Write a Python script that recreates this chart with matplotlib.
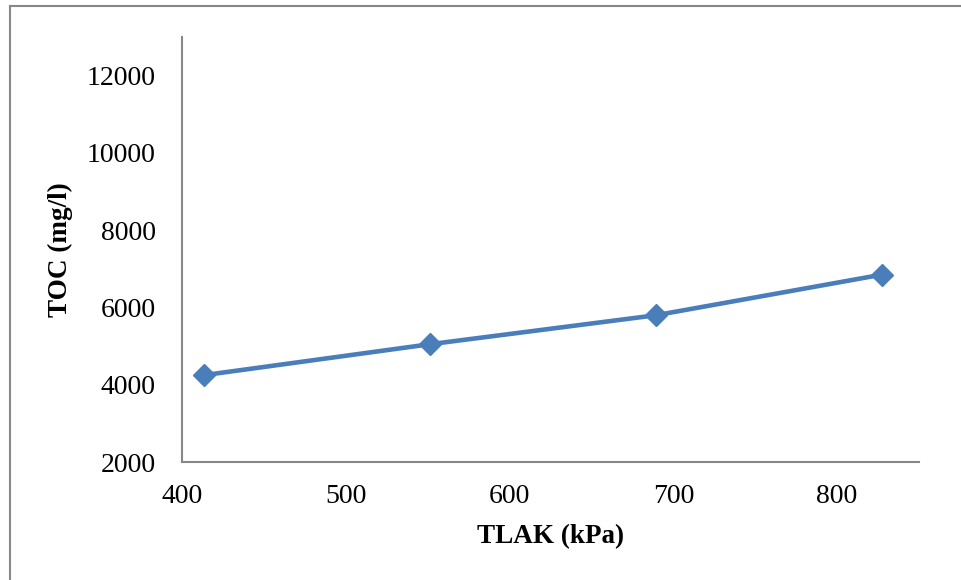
import matplotlib.pyplot as plt
from matplotlib.lines import Line2D

# TLAK pressure (kPa) vs TOC (mg/l)
tlak = [413.7, 551.6, 689.5, 827.4]
toc = [4250, 5050, 5800, 6850]
xticks = [400, 500, 600, 700, 800]
yticks = [2000, 4000, 6000, 8000, 10000, 12000]

plt.rcParams['font.family'] = 'Liberation Serif'

fig = plt.figure(figsize=(9.61, 5.8), dpi=100)
ax = fig.add_axes([0.1894, 0.2034, 0.9563 - 0.1894, 0.9362 - 0.2034])

ax.plot(tlak, toc, color='#4A7EBB', linewidth=3.3, marker='D', markersize=11,
        markerfacecolor='#4A7EBB', markeredgecolor='#4A7EBB')

ax.set_xlim(400, 850)
ax.set_ylim(2000, 13000)
ax.set_xticks(xticks)
ax.set_yticks(yticks)
ax.tick_params(axis='both', length=0, labelsize=20)
ax.tick_params(axis='x', pad=16)
ax.tick_params(axis='y', pad=19)

for s in ['top', 'right']:
    ax.spines[s].set_visible(False)
for s in ['left', 'bottom']:
    ax.spines[s].set_color('#888888')
    ax.spines[s].set_linewidth(1.5)

ax.set_xlabel('TLAK (kPa)', fontsize=19.5, fontweight='bold', labelpad=11)
ax.set_ylabel('TOC (mg/l)', fontsize=19.5, fontweight='bold', labelpad=10)

# outer chart frame (only left and top edges visible)
fig.add_artist(Line2D([10 / 961, 10 / 961], [0, 1 - 6 / 580], transform=fig.transFigure,
                      color='#888888', linewidth=1.5))
fig.add_artist(Line2D([10 / 961, 1], [1 - 6 / 580, 1 - 6 / 580], transform=fig.transFigure,
                      color='#888888', linewidth=1.5))

fig.savefig('out.png', dpi=100)
